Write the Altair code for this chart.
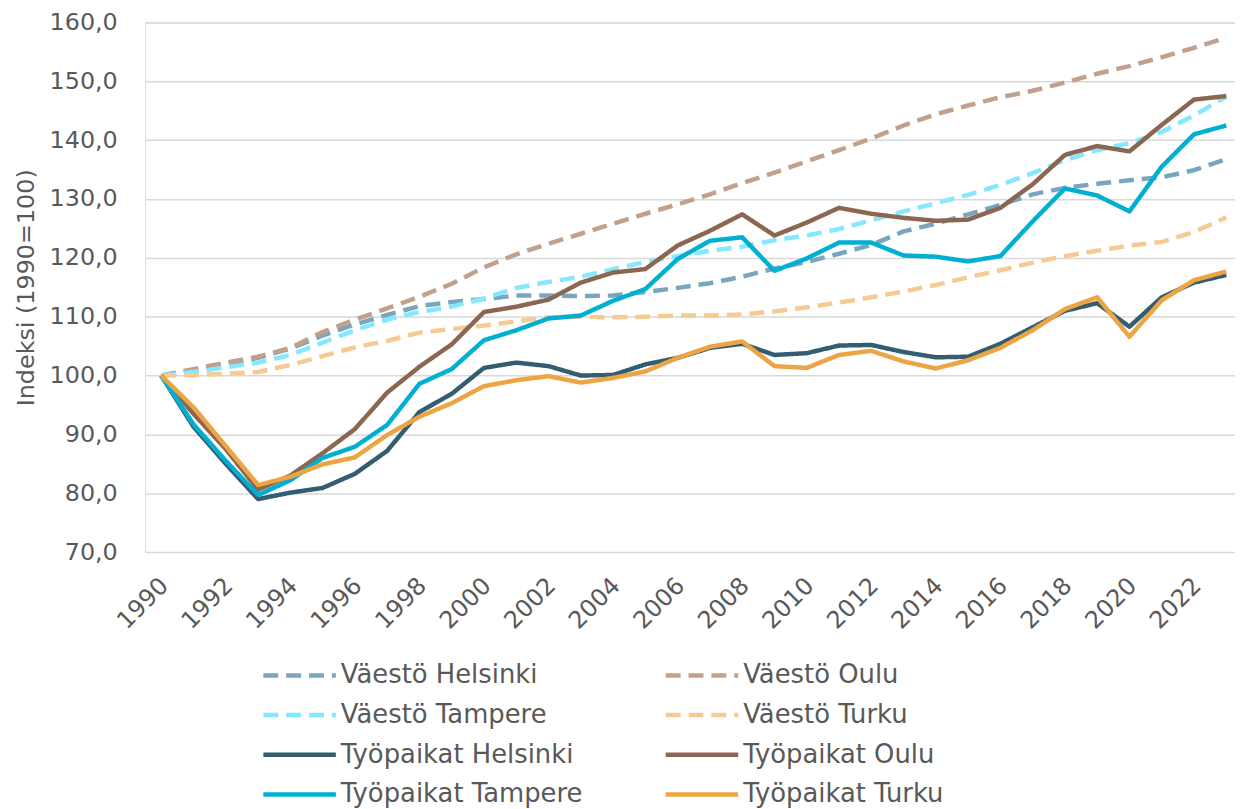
import altair as alt
import pandas as pd

years = list(range(1990, 2024))

series_names = [
    "Väestö Helsinki", "Väestö Oulu", "Väestö Tampere", "Väestö Turku",
    "Työpaikat Helsinki", "Työpaikat Oulu", "Työpaikat Tampere", "Työpaikat Turku",
]
# legend fills column by column: this order gives the reference's row-by-row reading
legend_order = [
    "Väestö Helsinki", "Väestö Tampere", "Työpaikat Helsinki", "Työpaikat Tampere",
    "Väestö Oulu", "Väestö Turku", "Työpaikat Oulu", "Työpaikat Turku",
]

vaesto_helsinki = [100.0, 100.9, 101.9, 103.0, 104.6, 106.8, 108.7, 110.3, 111.8, 112.5,
                   113.0, 113.6, 113.6, 113.5, 113.6, 114.2, 114.9, 115.7, 116.8, 118.2,
                   119.3, 120.7, 122.2, 124.5, 125.8, 127.4, 129.0, 130.8, 131.9, 132.6,
                   133.2, 133.7, 134.9, 136.8]
vaesto_oulu = [100.0, 101.1, 102.2, 103.2, 104.7, 107.4, 109.5, 111.4, 113.4, 115.6,
               118.4, 120.6, 122.4, 124.1, 125.8, 127.5, 129.1, 130.8, 132.7, 134.5,
               136.4, 138.3, 140.3, 142.5, 144.4, 145.9, 147.3, 148.4, 149.8, 151.3,
               152.6, 154.1, 155.7, 157.4]
vaesto_tampere = [100.0, 100.6, 101.4, 102.2, 103.5, 105.6, 107.7, 109.5, 110.8, 111.7,
                  113.1, 114.9, 115.9, 116.8, 118.1, 119.3, 120.3, 121.2, 121.9, 123.0,
                  123.8, 124.9, 126.4, 127.9, 129.3, 130.7, 132.4, 134.4, 136.6, 138.3,
                  139.5, 141.4, 144.2, 147.4]
vaesto_turku = [100.0, 100.1, 100.3, 100.6, 101.8, 103.3, 104.8, 105.9, 107.3, 107.9,
                108.5, 109.2, 109.9, 110.0, 109.9, 110.0, 110.2, 110.2, 110.4, 110.9,
                111.6, 112.4, 113.3, 114.3, 115.4, 116.7, 117.9, 119.2, 120.3, 121.2,
                122.1, 122.7, 124.4, 126.9]
tyopaikat_helsinki = [100.0, 91.3, 85.0, 79.0, 80.1, 80.9, 83.3, 87.2, 93.8, 96.9,
                      101.3, 102.2, 101.6, 100.0, 100.1, 101.9, 103.0, 104.7, 105.4, 103.5,
                      103.8, 105.1, 105.2, 104.0, 103.1, 103.2, 105.4, 108.2, 111.0, 112.3,
                      108.3, 113.3, 115.8, 117.1]
tyopaikat_oulu = [100.0, 93.5, 87.5, 80.6, 83.0, 86.8, 90.9, 97.1, 101.5, 105.3,
                  110.8, 111.7, 112.9, 115.8, 117.5, 118.1, 122.1, 124.6, 127.4, 123.8,
                  126.0, 128.5, 127.5, 126.8, 126.3, 126.5, 128.5, 132.5, 137.5, 139.0,
                  138.1, 142.6, 146.9, 147.5]
tyopaikat_tampere = [100.0, 91.7, 85.5, 79.7, 82.2, 86.0, 87.9, 91.6, 98.6, 101.1,
                     106.0, 107.7, 109.7, 110.2, 112.7, 114.7, 119.8, 122.9, 123.5, 117.8,
                     119.9, 122.6, 122.6, 120.4, 120.2, 119.4, 120.3, 126.2, 131.8, 130.6,
                     127.9, 135.5, 141.0, 142.5]
tyopaikat_turku = [100.0, 94.6, 88.0, 81.4, 82.8, 84.9, 86.1, 89.9, 93.0, 95.3,
                   98.2, 99.2, 99.9, 98.8, 99.6, 100.7, 103.0, 104.9, 105.8, 101.6,
                   101.3, 103.5, 104.2, 102.4, 101.2, 102.6, 104.7, 107.7, 111.3, 113.3,
                   106.6, 112.8, 116.2, 117.7]

series_values = [vaesto_helsinki, vaesto_oulu, vaesto_tampere, vaesto_turku,
                 tyopaikat_helsinki, tyopaikat_oulu, tyopaikat_tampere, tyopaikat_turku]

color_of = {
    "Väestö Helsinki": "#78A6BF", "Väestö Oulu": "#C2A18C",
    "Väestö Tampere": "#85E8FF", "Väestö Turku": "#F5CB93",
    "Työpaikat Helsinki": "#335D70", "Työpaikat Oulu": "#8B6650",
    "Työpaikat Tampere": "#00AFD1", "Työpaikat Turku": "#EDA443",
}
dash_of = {n: ([15, 8] if n.startswith("Väestö") else [1, 0]) for n in series_names}

y_ticks = [70, 80, 90, 100, 110, 120, 130, 140, 150, 160]
x_ticks = list(range(1990, 2023, 2))

rows = []
for name, vals in zip(series_names, series_values):
    for yr, v in zip(years, vals):
        rows.append({"Vuosi": yr, "Indeksi": v, "Sarja": name})
df = pd.DataFrame(rows)

FONT = "DejaVu Sans"
GREY = "#595959"

chart = alt.Chart(df).mark_line(strokeWidth=4.5, strokeJoin="round").encode(
    x=alt.X("Vuosi:Q",
            scale=alt.Scale(domain=[1989.5, 2023.27], nice=False, zero=False),
            axis=alt.Axis(values=x_ticks, format="d", title=None, grid=False,
                          domain=False, ticks=False, tickSize=0,
                          labelAngle=315, labelAlign="right", labelBaseline="middle",
                          labelPadding=30, labelOffset=3, labelOverlap=False,
                          labelFlush=False,
                          labelFont=FONT, labelFontSize=24, labelColor=GREY)),
    y=alt.Y("Indeksi:Q",
            scale=alt.Scale(domain=[70, 160], nice=False, zero=False),
            axis=alt.Axis(values=y_ticks,
                          labelExpr="replace(format(datum.value, '.1f'), '.', ',')",
                          title="Indeksi (1990=100)", titleFont=FONT, titleFontSize=24,
                          titleFontWeight="normal", titleColor=GREY,
                          titleAngle=270, titleAlign="center", titleBaseline="middle",
                          titleX=-119, titleY=266.5,
                          domain=False, ticks=False, tickSize=0, labelPadding=28,
                          labelFont=FONT, labelFontSize=24, labelColor=GREY,
                          grid=True, gridColor="#D9D9D9", gridWidth=1.5)),
    color=alt.Color("Sarja:N",
                    scale=alt.Scale(domain=legend_order,
                                    range=[color_of[n] for n in legend_order]),
                    title=None,
                    legend=alt.Legend(orient="none", legendX=135, legendY=636.5,
                                      columns=2, symbolType="M-2,0H2", symbolSize=1332,
                                      symbolStrokeWidth=4.5, labelFont=FONT,
                                      labelFontSize=26, labelColor=GREY, labelLimit=600,
                                      labelOffset=21, columnPadding=74, rowPadding=6,
                                      padding=0)),
    strokeDash=alt.StrokeDash("Sarja:N",
                              scale=alt.Scale(domain=legend_order,
                                              range=[dash_of[n] for n in legend_order]),
                              title=None),
).properties(
    width=1097,
    height=533,
    autosize="none",
    padding={"left": 138, "top": 12, "right": 0, "bottom": 256},
).configure_view(stroke=None).configure(background="white")

chart.save("out.html", embed_options={"renderer": "svg", "actions": False})
